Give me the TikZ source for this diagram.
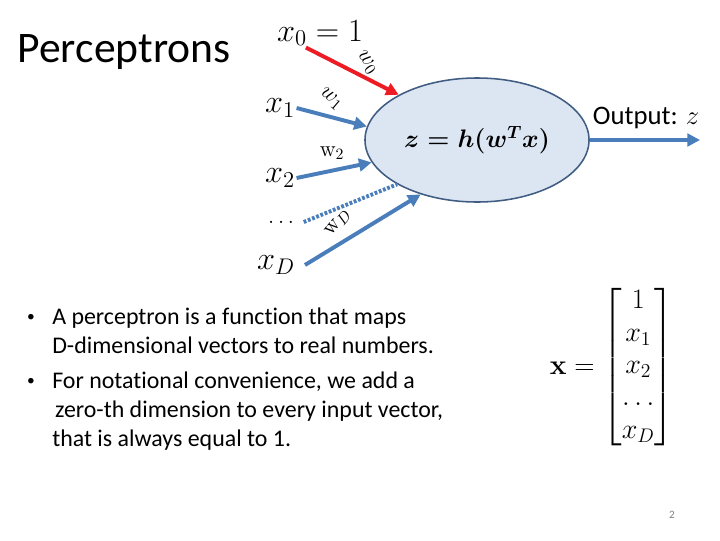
\documentclass[tikz,border=0pt]{standalone}
\usepackage{fix-cm}
\usepackage{amsmath}
\usepackage[no-math]{fontspec}
\setmainfont{Carlito}[Ligatures=NoCommon]
\usetikzlibrary{shapes.geometric,arrows.meta}
\definecolor{wireblue}{RGB}{74,126,187}
\definecolor{wirered}{RGB}{237,28,36}
\definecolor{cellfill}{RGB}{220,230,242}
\definecolor{celledge}{RGB}{65,92,130}
\tikzset{wire/.style={draw=wireblue,line width=2.8pt,-{Triangle[length=9pt,width=9pt]}},
 neuron/.style={ellipse,draw=celledge,fill=cellfill,line width=1.1pt,inner sep=0pt,minimum width=5.6cm,minimum height=3.1cm},
 input/.style={font=\fontsize{23}{27}\selectfont,inner sep=1pt},
 weight/.style={font=\fontsize{16}{18}\selectfont,inner sep=0pt},
 bodytext/.style={font=\fontsize{17}{20.6}\selectfont,align=left,anchor=north west,inner sep=0pt}}

\begin{document}
\begin{tikzpicture}[x=0.025cm,y=-0.025cm]
\useasboundingbox (0,0) rectangle (720,540);
\node[font=\fontsize{31}{37}\selectfont] (title) at (124,52) {Perceptrons};
\node[neuron] (cell) at (477,140) {{\fontsize{18}{22}\selectfont\boldmath$z=h(\boldsymbol{w}^{T}\boldsymbol{x})$}};
\node[input] (x0) at (320,33) {$x_0 = 1$};
\node[input] (x1) at (280,108) {$x_1$};
\node[input] (x2) at (280,178) {$x_2$};
\node[input,font=\fontsize{16}{18}\selectfont] (xdots) at (283,222) {$\dots$};
\node[input] (xD) at (276,265) {$x_D$};
\draw[wire,draw=wirered] ([xshift=-10pt]x0.south) -- (cell.150);
\draw[wire] (x1.east) -- (cell.173);
\draw[wire] (x2.east) -- (cell.192);
\draw[wire,dash pattern=on 2pt off 1.2pt,-] ([xshift=3pt]xdots.east) -- (cell.209);
\draw[wire] ([xshift=6pt]xD.east) -- (cell.224);
\node[weight,rotate=-55] (w0) at (367,63) {$w_0$};
\node[weight,rotate=-40] (w1) at (331,99) {$w_1$};
\node[weight] (w2) at (332,153) {$\mathrm{w}_2$};
\node[weight,rotate=50] (wD) at (338,223) {$\mathrm{w}_D$};
\coordinate (out) at (700,140);
\draw[wire,line width=2.2pt] (cell.east) -- (out);
\node[font=\fontsize{19}{22}\selectfont] (outlabel) at (646,118) {Output: $z$};
\node[font=\fontsize{11}{13}\selectfont] (bullet1) at (31,318) {•};
\node[bodytext] (item1) at (52,308) {A perceptron is a function that maps\\D-dimensional vectors to real numbers.};
\node[font=\fontsize{11}{13}\selectfont] (bullet2) at (31,382) {•};
\node[bodytext] (item2) at (52,372) {For notational convenience, we add a\\\hspace{2pt}zero-th dimension to every input vector,\\that is always equal to 1.};
\node[font=\fontsize{20}{23}\selectfont] (vecx) at (612,367) {$\mathbf{x} = \begin{bmatrix} 1\\ x_1\\ x_2\\ \dots\\ x_D \end{bmatrix}$};
\node[font=\fontsize{8}{10}\selectfont,text=gray] (pagenum) at (672,515) {2};
\end{tikzpicture}
\end{document}
